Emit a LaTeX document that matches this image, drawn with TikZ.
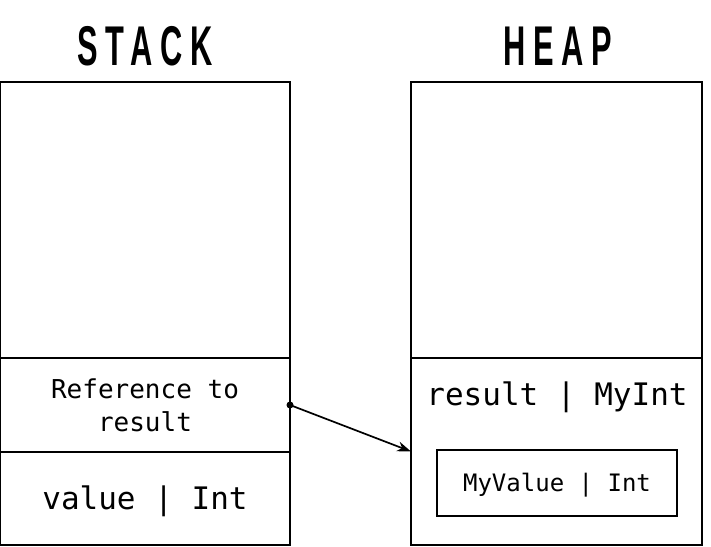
\documentclass[tikz,border=0pt]{standalone}
\usepackage{fontspec}
\setmainfont{Liberation Sans}
\setmonofont{DejaVu Sans Mono}
\newfontfamily\titlefont[LetterSpace=25]{Liberation Sans}
\usetikzlibrary{arrows.meta}

\begin{document}
\begin{tikzpicture}[x=1pt,y=-1pt,line width=1.3pt,
  cell/.style={draw,inner sep=0pt,outer sep=0pt,font=\ttfamily},
  title/.style={font=\titlefont\bfseries\fontsize{56}{60}\selectfont,xscale=0.55,inner sep=0pt},
  refarrow/.style={draw,line width=1.7pt,-{Stealth[length=14pt,width=10pt]}}]
\useasboundingbox (0,0) rectangle (711,546);

% Titles
\node[title] (stacktitle) at (145,46) {STACK};
\node[title] (heaptitle) at (558,46) {HEAP};

% Stack column
\node[cell,minimum width=290,minimum height=276] (stacktop) at (145,220) {};
\node[cell,minimum width=290,minimum height=94,align=center,
      font=\ttfamily\fontsize{26}{33}\selectfont] (stackref) at (145,405) {Reference to\\result};
\node[cell,minimum width=290,minimum height=93,text height=22.6pt,text depth=0pt,
      font=\ttfamily\fontsize{31}{36}\selectfont] (stackval) at (145,498.5) {value | Int};

% Heap column
\node[cell,minimum width=291,minimum height=276] (heaptop) at (556.5,220) {};
\node[cell,minimum width=291,minimum height=187] (heapobj) at (556.5,451.5) {};
\node[font=\ttfamily\fontsize{31}{36}\selectfont,inner sep=0pt,text height=22.6pt,text depth=0pt] (objlabel) at (557,394) {result | MyInt};
\node[cell,minimum width=240,minimum height=66,text height=17.5pt,text depth=0pt,
      font=\ttfamily\fontsize{24}{28}\selectfont] (myvalue) at (557,483) {MyValue | Int};

% Reference arrow
\fill (stackref.east) circle (3.5pt);
\path[refarrow] (stackref.east) -- (heapobj.west);

\end{tikzpicture}
\end{document}
